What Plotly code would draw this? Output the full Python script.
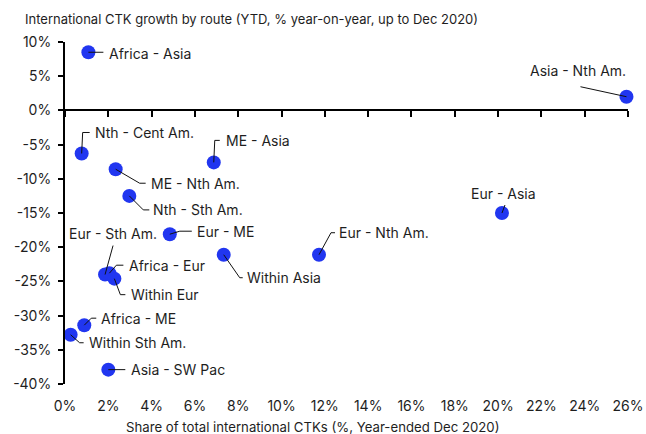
import plotly.graph_objects as go

# ---- data ----
routes = ["Africa - Asia", "Nth - Cent Am.", "ME - Nth Am.", "Nth - Sth Am.", "ME - Asia",
          "Asia - Nth Am.", "Eur - Asia", "Eur - ME", "Within Asia", "Eur - Nth Am.",
          "Eur - Sth Am.", "Africa - Eur", "Within Eur", "Africa - ME", "Within Sth Am.",
          "Asia - SW Pac"]
share = [1.08, 0.77, 2.34, 2.97, 6.87, 25.93, 20.18, 4.84, 7.33, 11.73,
         1.85, 2.05, 2.28, 0.89, 0.26, 2.00]
growth = [8.5, -6.3, -8.6, -12.5, -7.6, 2.0, -15.0, -18.1, -21.1, -21.1,
          -24.0, -23.8, -24.6, -31.4, -32.8, -37.9]

x_ticks = [0, 2, 4, 6, 8, 10, 12, 14, 16, 18, 20, 22, 24, 26]
x_tick_labels = ["0%", "2%", "4%", "6%", "8%", "10%", "12%", "14%", "16%", "18%",
                 "20%", "22%", "24%", "26%"]
y_ticks = [-40, -35, -30, -25, -20, -15, -10, -5, 0, 5, 10]
y_tick_labels = ["-40%", "-35%", "-30%", "-25%", "-20%", "-15%", "-10%", "-5%", "0%", "5%", "10%"]

title_text = "International CTK growth by route (YTD, % year-on-year, up to Dec 2020)"
x_title = "Share of total international CTKs (%, Year-ended Dec 2020)"

# ---- label placement (pixel offsets from each point, screen y down) ----
label_layout = {
    "Africa - Asia":  ((20, 1, "left"),   [(15, 0)]),
    "Nth - Cent Am.": ((12, -21, "left"), [(1, -21), (8, -21)]),
    "ME - Asia":      ((11, -22, "left"), [(1, -22), (6, -22)]),
    "ME - Nth Am.":   ((34, 14, "left"),  [(24, 14), (30, 14)]),
    "Nth - Sth Am.":  ((23, 14, "left"),  [(14, 14), (20, 14)]),
    "Eur - ME":       ((26, -3, "left"),  [(10, -3), (22, -3)]),
    "Within Asia":    ((22, 23, "left"),  [(16, 23), (19, 23)]),
    "Eur - Nth Am.":  ((19, -22, "left"), [(12, -22), (16, -22)]),
    "Eur - Sth Am.":  ((8, -41, "center"), [(8, -29)]),
    "Africa - Eur":   ((19, -8, "left"),  [(7, -8), (14, -8)]),
    "Within Eur":     ((16, 16, "left"),  [(6, 16), (11, 16)]),
    "Africa - ME":    ((16, -7, "left"),  [(7, -7), (12, -7)]),
    "Within Sth Am.": ((17, 8, "left"),   [(9, 8), (13, 8)]),
    "Asia - SW Pac":  ((22, 0, "left"),   [(17, 0)]),
    "Asia - Nth Am.": ((-48, -26, "center"), [(-46, -10)]),
    "Eur - Asia":     ((2, -20, "center"), [(3, -8)]),
}

FONT = "Inter, 'Liberation Sans', Arial, sans-serif"
TXT = "#1e1e1e"

fig = go.Figure()
fig.add_trace(go.Scatter(
    x=share, y=growth, mode="markers", text=routes,
    marker=dict(size=14, color="#2136F0", line=dict(width=0)),
    cliponaxis=False, showlegend=False, hoverinfo="text",
))

ymin, ymax = y_ticks[0], y_ticks[-1]
zero_pos = (0 - ymin) / (ymax - ymin)

annotations = []
shapes = []
for name, xv, yv in zip(routes, share, growth):
    (tx, ty, anchor), pts = label_layout[name]
    path = "M0,0" + "".join(f" L{px},{-py}" for px, py in pts)
    shapes.append(dict(type="path", xref="x", yref="y", xsizemode="pixel", ysizemode="pixel",
                       xanchor=xv, yanchor=yv, path=path,
                       line=dict(color="#111111", width=1), layer="above"))
    annotations.append(dict(x=xv, y=yv, xref="x", yref="y", text=name, showarrow=False,
                            xshift=tx, yshift=-ty, xanchor=anchor, yanchor="middle",
                            borderpad=0, font=dict(family=FONT, size=14, color=TXT)))

annotations.append(dict(x=(312 - 65) / 563, y=(384 - 427) / 342, xref="paper", yref="paper",
                        text=x_title, showarrow=False, xanchor="center", yanchor="middle",
                        font=dict(family=FONT, size=13.2, color=TXT)))

fig.update_layout(
    width=646, height=434,
    margin=dict(l=65, r=18, t=42, b=50, autoexpand=False),
    paper_bgcolor="white", plot_bgcolor="white",
    font=dict(family=FONT, size=14, color=TXT),
    title=dict(text=title_text, x=25 / 646, xanchor="left", xref="container",
               y=1 - 19 / 434, yanchor="middle", yref="container",
               font=dict(family=FONT, size=13, color=TXT)),
    xaxis=dict(range=[x_ticks[0], x_ticks[-1]], tickvals=x_ticks, ticktext=x_tick_labels,
               showline=False, ticks="", showgrid=False, zeroline=False, automargin=False,
               ticklabelstandoff=12, tickfont=dict(size=14, color=TXT)),
    xaxis2=dict(overlaying="x", matches="x", anchor="free", position=zero_pos,
                showline=True, linewidth=2, linecolor="black", ticks="outside",
                ticklen=6, tickwidth=1.5, tickcolor="black", tickvals=x_ticks,
                showticklabels=False, showgrid=False, zeroline=False, automargin=False),
    yaxis=dict(range=[ymin, ymax], tickvals=y_ticks, ticktext=y_tick_labels,
               showline=True, linewidth=2, linecolor="black", ticks="outside",
               ticklen=5, tickwidth=1.5, tickcolor="black", showgrid=False, zeroline=False,
               automargin=False, ticklabelstandoff=4, tickfont=dict(size=14, color=TXT)),
    annotations=annotations,
    shapes=shapes,
)
fig.add_trace(go.Scatter(x=[None], y=[None], xaxis="x2", showlegend=False, hoverinfo="skip"))

fig.write_html("out.html", config={"displayModeBar": False},
               post_script="document.body.style.margin='0';document.body.style.padding='0';")
